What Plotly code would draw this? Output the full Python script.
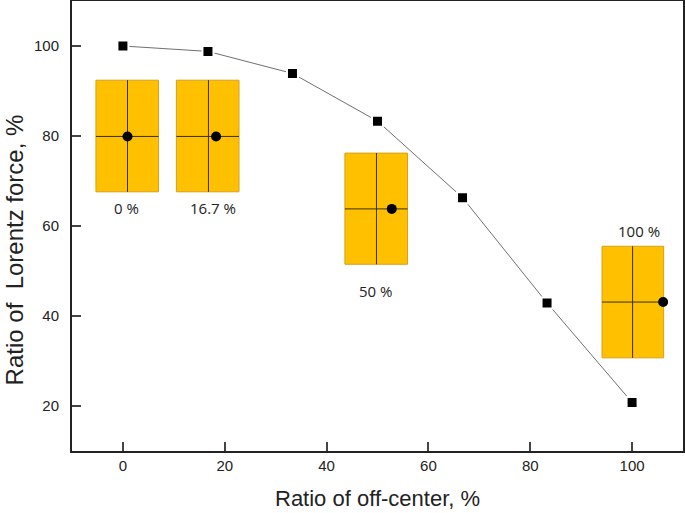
import plotly.graph_objects as go

# Data
x_vals = [0, 16.7, 33.3, 50, 66.7, 83.3, 100]
y_vals = [100, 98.8, 93.9, 83.3, 66.3, 42.9, 20.8]

# Inset diagrams (data coordinates)
rect_x0 = [-5.3, 10.5, 43.6, 94.1]
rect_x1 = [7.0, 22.8, 55.9, 106.2]
rect_y0 = [67.6, 67.6, 51.5, 30.7]
rect_y1 = [92.4, 92.4, 76.2, 55.5]
div_x = [0.9, 16.8, 49.8, 100.1]
div_y = [79.9, 79.9, 63.8, 43.1]
dot_x = [0.9, 18.3, 52.8, 106.1]
label_text = ["0 %", "16.7 %", "50 %", "100 %"]
label_x = [0.8, 17.7, 49.7, 101.4]
label_y = [64.0, 64.0, 45.5, 59.0]

x_ticks = [0, 20, 40, 60, 80, 100]
y_ticks = [20, 40, 60, 80, 100]

fig = go.Figure()

shapes = []
for i in range(len(rect_x0)):
    shapes.append(dict(type="rect", x0=rect_x0[i], x1=rect_x1[i], y0=rect_y0[i], y1=rect_y1[i],
                       xref="x", yref="y", fillcolor="#FFC000",
                       line=dict(color="#D4A017", width=1), layer="below"))
    shapes.append(dict(type="line", x0=div_x[i], x1=div_x[i], y0=rect_y0[i], y1=rect_y1[i],
                       xref="x", yref="y", line=dict(color="#3b3000", width=1), layer="below"))
    shapes.append(dict(type="line", x0=rect_x0[i], x1=rect_x1[i], y0=div_y[i], y1=div_y[i],
                       xref="x", yref="y", line=dict(color="#3b3000", width=1), layer="below"))

fig.add_trace(go.Scatter(x=dot_x, y=div_y, mode="markers",
                         marker=dict(symbol="circle", size=10, color="black"),
                         showlegend=False, hoverinfo="skip"))

fig.add_trace(go.Scatter(x=x_vals, y=y_vals, mode="lines+markers",
                         line=dict(color="#707070", width=1),
                         marker=dict(symbol="square", size=11, color="black",
                                     line=dict(color="white", width=2)),
                         showlegend=False))

annotations = []
for i in range(len(label_text)):
    annotations.append(dict(x=label_x[i], y=label_y[i], xref="x", yref="y", text=label_text[i],
                            showarrow=False, font=dict(family="Open Sans, Liberation Sans", size=15, color="#222")))

annotations.append(dict(x=0.5, y=-0.105, xref="paper", yref="paper", text="Ratio of off-center, %",
                        showarrow=False, yanchor="middle", xanchor="center",
                        font=dict(family="Liberation Sans, Arial", size=22, color="#222")))
annotations.append(dict(x=-0.094, y=0.447, xref="paper", yref="paper", text="Ratio of  Lorentz force, %",
                        showarrow=False, textangle=-90, xanchor="center", yanchor="middle",
                        font=dict(family="Liberation Sans, Arial", size=24, color="#222")))

fig.update_layout(
    width=685, height=513,
    margin=dict(l=72, r=2, t=1, b=62, autoexpand=False),
    paper_bgcolor="white", plot_bgcolor="white",
    shapes=shapes, annotations=annotations,
    xaxis=dict(range=[-10, 110], tickvals=x_ticks, ticks="inside", ticklen=9, tickwidth=2,
               showline=True, linecolor="#222", linewidth=2, mirror=True, showgrid=False,
               zeroline=False, tickfont=dict(family="Liberation Sans, Arial", size=15, color="#222")),
    yaxis=dict(range=[10, 110], tickvals=y_ticks, ticks="inside", ticklen=9, tickwidth=2,
               showline=True, linecolor="#222", linewidth=2, mirror=True, showgrid=False,
               zeroline=False, ticklabelstandoff=8,
               tickfont=dict(family="Liberation Sans, Arial", size=15, color="#222")),
)

fig.write_html("out.html", config={"displayModeBar": False},
               post_script="document.body.style.margin='0';document.body.style.overflow='hidden';")
